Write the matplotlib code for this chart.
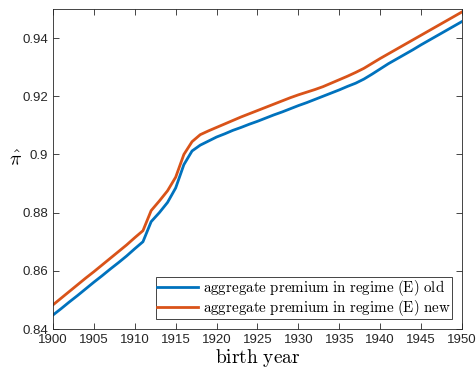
import numpy as np
import matplotlib
matplotlib.use('Agg')
import matplotlib.pyplot as plt

plt.rcParams['font.family'] = ['Liberation Sans', 'DejaVu Sans']
plt.rcParams['mathtext.fontset'] = 'cm'

# birth cohorts and aggregate premium (yearly values)
years = np.arange(1900, 1951)
premium_old = [0.8448, 0.8470, 0.8493, 0.8515, 0.8538, 0.8561, 0.8583, 0.8606, 0.8628, 0.8651,
               0.8676, 0.8700, 0.8769, 0.8800, 0.8835, 0.8885, 0.8965, 0.9012, 0.9032, 0.9046,
               0.9060, 0.9071, 0.9083, 0.9093, 0.9104, 0.9114, 0.9125, 0.9136, 0.9146, 0.9157,
               0.9168, 0.9178, 0.9189, 0.9200, 0.9211, 0.9222, 0.9234, 0.9245, 0.9259, 0.9276,
               0.9294, 0.9312, 0.9328, 0.9344, 0.9360, 0.9377, 0.9393, 0.9409, 0.9425, 0.9441,
               0.9457]
premium_new = [0.8483, 0.8506, 0.8529, 0.8552, 0.8575, 0.8597, 0.8620, 0.8643, 0.8666, 0.8689,
               0.8714, 0.8738, 0.8807, 0.8840, 0.8875, 0.8922, 0.9000, 0.9044, 0.9068, 0.9081,
               0.9093, 0.9105, 0.9117, 0.9129, 0.9140, 0.9151, 0.9162, 0.9173, 0.9184, 0.9195,
               0.9205, 0.9214, 0.9223, 0.9233, 0.9245, 0.9257, 0.9269, 0.9282, 0.9296, 0.9313,
               0.9330, 0.9346, 0.9362, 0.9378, 0.9394, 0.9410, 0.9426, 0.9442, 0.9458, 0.9474,
               0.9490]

fig = plt.figure(figsize=(4.76, 3.71), dpi=100)
ax = fig.add_axes([0.1113, 0.1132, 0.8593, 0.8625])

ax.plot(years, premium_old, color='#0072BD', lw=2,
        label=r'$\mathrm{aggregate\ premium\ in\ regime\ (E)\ old}$')
ax.plot(years, premium_new, color='#D95319', lw=2,
        label=r'$\mathrm{aggregate\ premium\ in\ regime\ (E)\ new}$')

ax.set_xlim(1900, 1950)
ax.set_ylim(0.84, 0.95)
ax.set_xticks(np.arange(1900, 1951, 5))
ax.set_yticks([0.84, 0.86, 0.88, 0.9, 0.92, 0.94])
ax.set_yticklabels(['0.84', '0.86', '0.88', '0.9', '0.92', '0.94'])

ax.tick_params(direction='in', top=True, right=True, length=4, width=0.6,
               colors='#262626', labelsize=9.5, labelcolor='#262626')
for s in ax.spines.values():
    s.set_color('#262626')
    s.set_linewidth(0.6)

ax.set_xlabel(r'$\mathrm{birth\ year}$', fontsize=14, labelpad=1)
ax.set_ylabel(r'$\hat{\pi}$', fontsize=14, rotation=0, labelpad=5)

leg = ax.legend(loc='lower right', fontsize=10.8, handlelength=2.75, handletextpad=0.3,
                borderpad=0.05, labelspacing=0.0, fancybox=False, framealpha=1,
                edgecolor='#262626', borderaxespad=0.7)
leg.get_frame().set_linewidth(0.6)

plt.savefig('out.png', dpi=100)
